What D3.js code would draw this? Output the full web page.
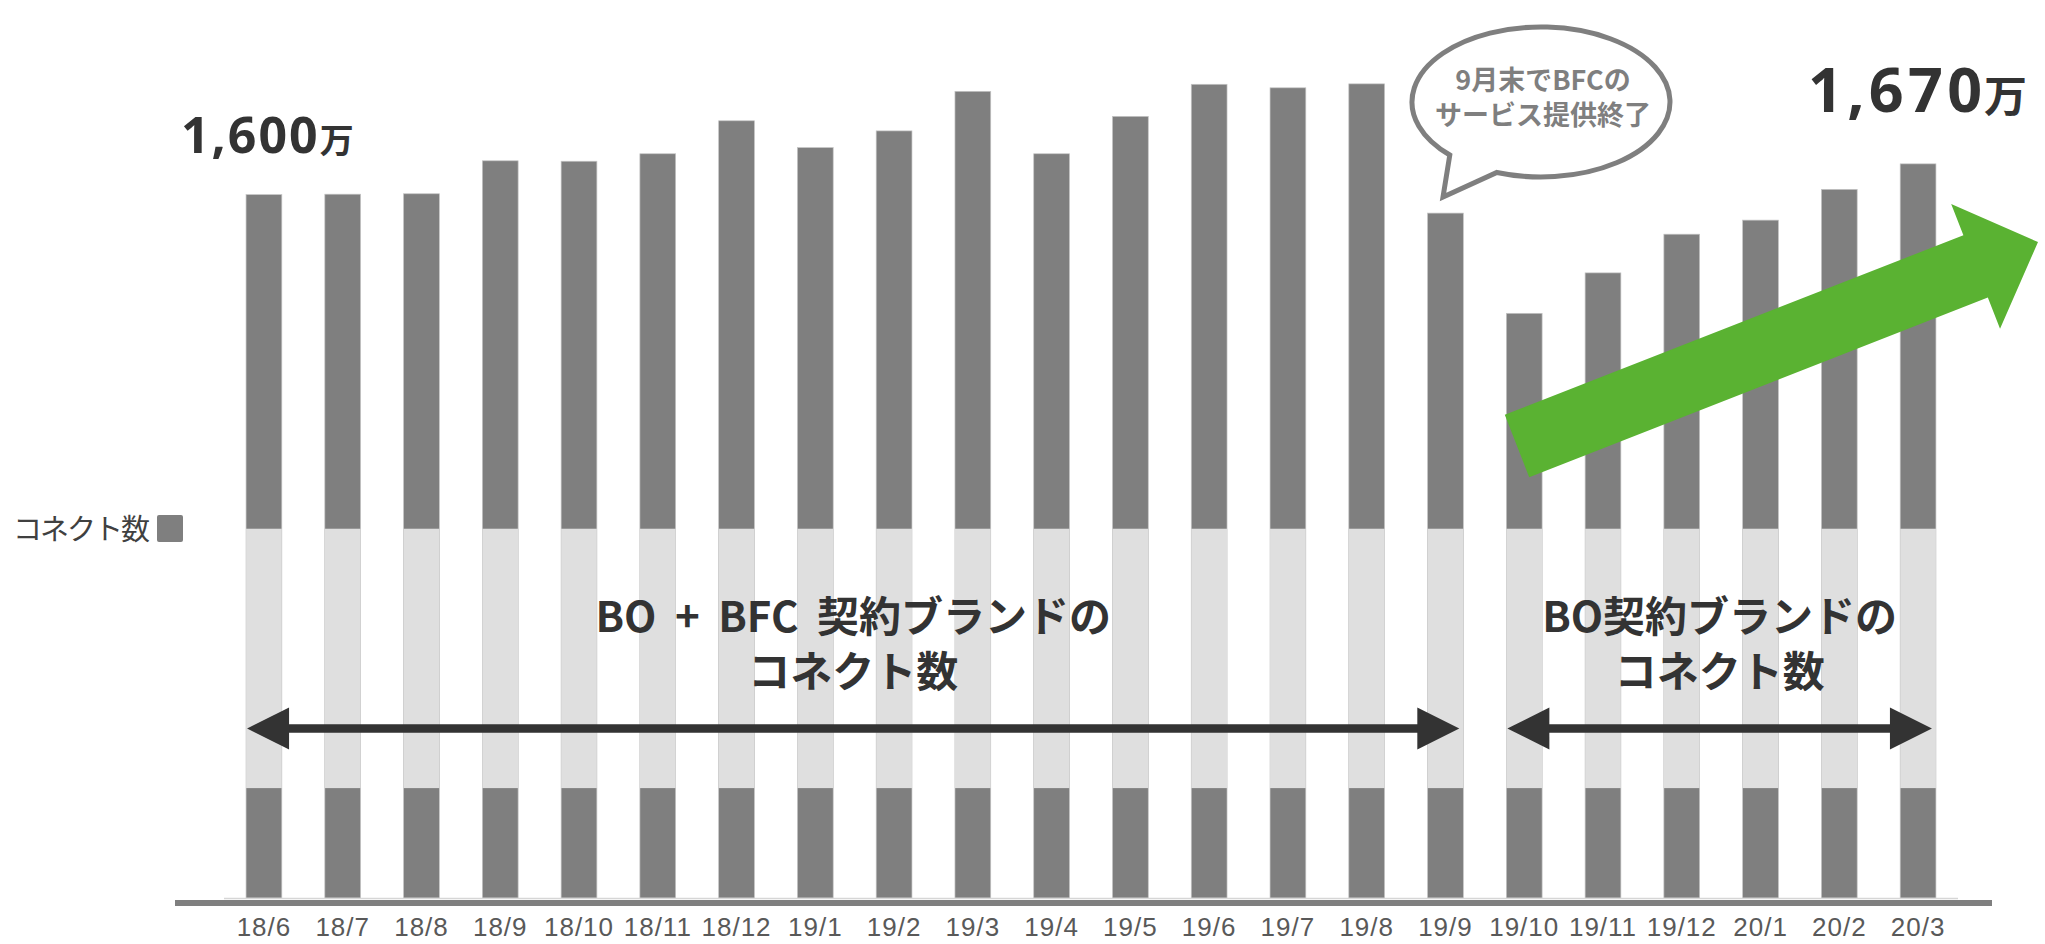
<!DOCTYPE html>
<html>
<head>
<meta charset="utf-8">
<script src="https://cdn.jsdelivr.net/npm/d3@7"></script>
<style>
  html, body { margin: 0; padding: 0; background: #fff; }
  svg { display: block; }
</style>
</head>
<body>
<div id="chart"></div>
<script>
// monthly connect counts (万)
const months = ["18/6", "18/7", "18/8", "18/9", "18/10", "18/11", "18/12", "19/1", "19/2", "19/3", "19/4",
  "19/5", "19/6", "19/7", "19/8", "19/9", "19/10", "19/11", "19/12", "20/1", "20/2", "20/3"]
const connects = [1600, 1601, 1602, 1677, 1676, 1693, 1768, 1707, 1745, 1835, 1693,
  1778, 1851, 1843, 1852, 1558, 1330, 1422, 1510, 1542, 1612, 1670]
const breakRange = [250, 840]   // faded part of every bar (axis break)
const legendLabel = "コネクト数"
const periods = [
  { from: "18/6", to: "19/9", lines: ["BO + BFC 契約ブランドの", "コネクト数"] },
  { from: "19/10", to: "20/3", lines: ["BO契約ブランドの", "コネクト数"] }
]
const bubbleLines = ["9月末でBFCの", "サービス提供終了"]

const W = 2045, H = 944
const jpFont = "'Noto Sans CJK JP', 'Noto Sans', sans-serif"
const numFont = "'Noto Sans', 'Open Sans', sans-serif"

const svg = d3.select("#chart").append("svg")
  .attr("width", W)
  .attr("height", H)

const x = d3.scaleBand()
  .domain(months)
  .range([224, 1958])
  .paddingInner(0.546)
  .paddingOuter(0.28)

const y = d3.scaleLinear()
  .domain([0, 2000])
  .range([898, 18.8])

// bars
svg.append("g").selectAll("rect")
  .data(months)
  .join("rect")
  .attr("x", d => x(d))
  .attr("y", (d, i) => y(connects[i]))
  .attr("width", x.bandwidth())
  .attr("height", (d, i) => y(0) - y(connects[i]))
  .attr("fill", "#7f7f7f")
  .attr("stroke", "#c4c4c4")
  .attr("stroke-width", 0.7)

// axis break band
svg.append("g").selectAll("rect")
  .data(months)
  .join("rect")
  .attr("x", d => x(d))
  .attr("y", y(breakRange[1]))
  .attr("width", x.bandwidth())
  .attr("height", y(breakRange[0]) - y(breakRange[1]))
  .attr("fill", "#dfdfdf")

// baseline
svg.append("line")
  .attr("x1", x.range()[0]).attr("x2", x.range()[1])
  .attr("y1", y(0) + 0.5).attr("y2", y(0) + 0.5)
  .attr("stroke", "#d6d6d6").attr("stroke-width", 1.5)
svg.append("line")
  .attr("x1", 175).attr("x2", 1992)
  .attr("y1", y(0) + 5).attr("y2", y(0) + 5)
  .attr("stroke", "#7f7f7f").attr("stroke-width", 6)

// x axis labels
const xAxis = svg.append("g")
  .attr("transform", `translate(0,${y(0) + 20})`)
  .call(d3.axisBottom(x).tickSize(0).tickPadding(0))
xAxis.select(".domain").remove()
xAxis.selectAll("text")
  .attr("dy", 0)
  .attr("y", 18)
  .attr("fill", "#595959")
  .attr("font-family", "'Liberation Sans Narrow', 'Liberation Sans', sans-serif")
  .attr("font-size", 26)
  .attr("letter-spacing", 1)

// legend
svg.append("text")
  .attr("x", 13).attr("y", 540)
  .attr("font-family", jpFont)
  .attr("font-size", 29)
  .attr("letter-spacing", -2)
  .attr("fill", "#404040")
  .text(legendLabel)
svg.append("rect")
  .attr("x", 157).attr("y", 515)
  .attr("width", 26).attr("height", 27)
  .attr("rx", 2)
  .attr("fill", "#7f7f7f")

// period arrows and labels
function doubleArrow(x0, x1, yy) {
  const head = 42, half = 21
  svg.append("rect")
    .attr("x", x0 + head - 2).attr("y", yy - 4.25)
    .attr("width", x1 - x0 - 2 * head + 4).attr("height", 8.5)
    .attr("fill", "#333")
  svg.append("path")
    .attr("d", `M${x0},${yy}L${x0 + head},${yy - half}L${x0 + head},${yy + half}Z`)
    .attr("fill", "#333")
  svg.append("path")
    .attr("d", `M${x1},${yy}L${x1 - head},${yy - half}L${x1 - head},${yy + half}Z`)
    .attr("fill", "#333")
}

periods.forEach(p => {
  const x0 = x(p.from) + 1
  const x1 = x(p.to) + x.bandwidth() - 4
  doubleArrow(x0, x1, 728.5)
  const t = svg.append("text")
    .attr("text-anchor", "middle")
    .attr("font-family", jpFont)
    .attr("font-weight", 700)
    .attr("font-size", 42)
    .attr("word-spacing", 9)
    .attr("fill", "#333")
  p.lines.forEach((l, i) => {
    t.append("tspan")
      .attr("x", (x0 + x1) / 2)
      .attr("y", 632 + i * 55)
      .text(l)
  })
})

// value callouts
function callout(num, x0, yy, big, small, ls) {
  const t = svg.append("text")
    .attr("x", x0).attr("y", yy)
    .attr("fill", "#333")
    .attr("font-weight", 700)
  t.append("tspan")
    .attr("font-family", numFont)
    .attr("font-size", big)
    .attr("letter-spacing", big * ls)
    .text(d3.format(",")(num))
  t.append("tspan")
    .attr("font-family", jpFont)
    .attr("font-size", small)
    .attr("dx", -big * ls + 2)
    .text("万")
}
callout(connects[0], 181, 153, 50, 34, 0.04)
callout(connects[connects.length - 1], 1808, 112, 61, 43, 0.07)

// speech bubble
const bx = 1541, by = 102, rx = 129, ry = 75
const pt = a => [bx + rx * Math.cos(a * Math.PI / 180), by + ry * Math.sin(a * Math.PI / 180)]
const baseR = pt(110), baseL = pt(135)
svg.append("path")
  .attr("d", `M${baseR}A${rx},${ry} 0 1 0 ${baseL}L1443,197Z`)
  .attr("fill", "#fff")
  .attr("stroke", "#7f7f7f")
  .attr("stroke-width", 5)
  .attr("stroke-linejoin", "miter")
const bt = svg.append("text")
  .attr("text-anchor", "middle")
  .attr("font-family", jpFont)
  .attr("font-weight", 700)
  .attr("font-size", 27)
  .attr("fill", "#7f7f7f")
bubbleLines.forEach((l, i) => {
  bt.append("tspan").attr("x", 1543).attr("y", 90 + i * 35).text(l)
})

// growth arrow
const from = [1517, 446], to = [2038, 242]
const len = Math.hypot(to[0] - from[0], to[1] - from[1])
const u = [(to[0] - from[0]) / len, (to[1] - from[1]) / len]
const n = [-u[1], u[0]]
const shaft = 33.5, headHalf = 67, headLen = 67
const hb = [to[0] - u[0] * headLen, to[1] - u[1] * headLen]
const off = (p, k) => [p[0] + n[0] * k, p[1] + n[1] * k]
const arrowPts = [off(from, shaft), off(from, -shaft), off(hb, -shaft), off(hb, -headHalf), to,
  off(hb, headHalf), off(hb, shaft)]
svg.append("path")
  .attr("d", d3.line()(arrowPts) + "Z")
  .attr("fill", "#5ab232")
</script>
</body>
</html>
